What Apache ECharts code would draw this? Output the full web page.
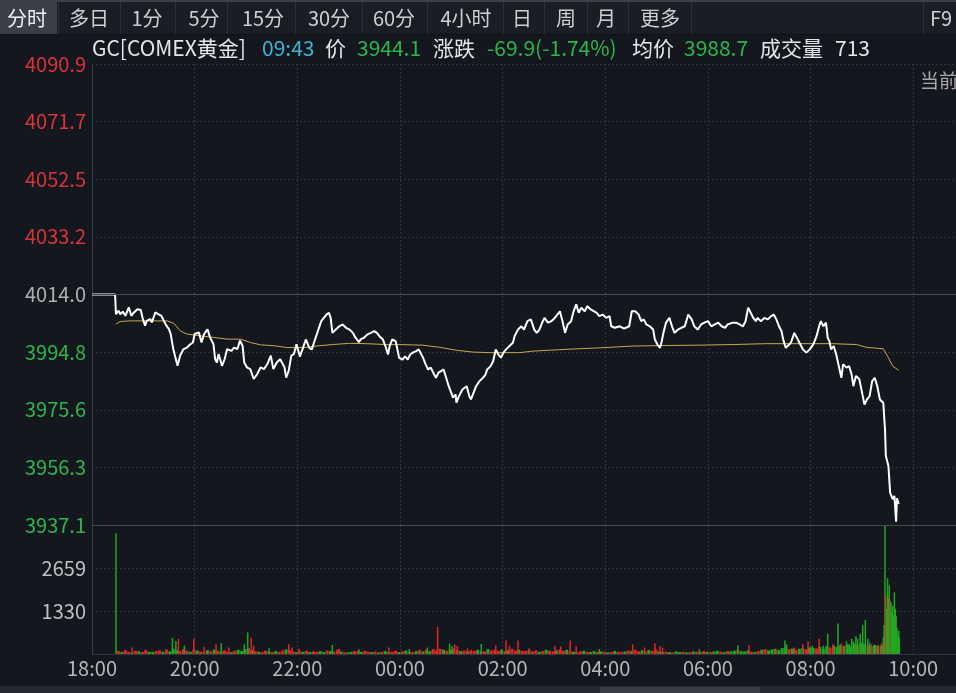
<!DOCTYPE html>
<html><head><meta charset="utf-8">
<script src="https://cdn.jsdelivr.net/npm/echarts@6/dist/echarts.min.js"></script>
<style>html,body{margin:0;padding:0;background:#14171e;overflow:hidden}#c{width:956px;height:693px;}</style>
</head><body><div id="c"></div><script>
// ---------------- DATA ----------------
const tabLabels = ['分时','多日','1分','5分','15分','30分','60分','4小时','日','周','月','更多'];
const headerSymbol = 'GC[COMEX黄金]';
const headerTime = '09:43';
const lastPrice = '3944.1';
const changeText = '-69.9(-1.74%)';
const avgPriceText = '3988.7';
const volumeText = '713';
const prevClose = 4014.0;
const priceTickStep = 19.225;
const priceTickLabels = ['3937.1','3956.3','3975.6','3994.8','4014.0','4033.2','4052.5','4071.7','4090.9'];
const volTickLabels = ['', '1330', '2659', ''];
const timeTickLabels = ['18:00','20:00','22:00','00:00','02:00','04:00','06:00','08:00','10:00'];
// [minutes after 18:00, price]
const pricePoints = [
[0,4014.0],[27,4014.0],[28,4007.4],[31,4008.6],[33,4007.4],[36,4008.3],[39,4006.9],[43,4009.7],[46,4006.9],[49,4008.0],
[53,4009.1],[57,4008.8],[59,4006.3],[62,4003.6],[64,4005.2],[68,4005.8],[70,4004.7],[74,4008.0],[78,4007.4],[81,4006.9],
[84,4005.2],[87,4003.6],[90,4002.4],[92,4000.8],[95,3995.8],[97,3993.6],[100,3990.2],[103,3993.6],[107,3995.8],[111,3996.3],
[115,3997.4],[118,3998.0],[120,4000.8],[125,4001.3],[128,3998.0],[131,4000.8],[135,4002.4],[138,3999.7],[142,3997.4],[144,3992.4],
[146,3991.3],[148,3994.1],[152,3990.2],[155,3992.4],[158,3995.8],[163,3995.2],[166,3996.3],[170,3995.8],[173,3998.6],[176,3996.9],
[178,3991.3],[181,3989.7],[185,3989.1],[189,3985.8],[193,3987.4],[197,3989.7],[201,3989.1],[205,3990.8],[209,3993.6],[212,3989.1],
[216,3991.3],[220,3992.4],[222,3993.0],[225,3989.7],[227,3986.3],[230,3988.6],[233,3993.6],[236,3994.1],[239,3997.4],[243,3993.3],
[246,3995.7],[250,3999.0],[254,3996.2],[257,3995.7],[260,3998.4],[264,4001.8],[268,4005.1],[271,4006.2],[274,4007.3],[277,4007.9],
[279,4006.2],[281,4001.2],[285,4002.3],[289,4003.4],[293,4004.0],[297,4002.9],[301,4002.3],[305,4001.2],[308,3999.6],[312,3998.1],
[314,3999.0],[318,3999.6],[322,4000.7],[326,4001.2],[330,4001.8],[333,4001.2],[336,4000.1],[340,3999.0],[343,3996.8],[346,3994.0],
[348,3996.8],[351,3999.0],[355,3998.4],[357,3995.7],[359,3992.9],[363,3992.3],[366,3993.4],[369,3992.3],[372,3994.0],[375,3994.6],
[379,3995.1],[382,3995.7],[385,3994.0],[387,3992.9],[390,3990.7],[393,3989.0],[396,3989.6],[399,3987.9],[402,3986.2],[405,3987.9],
[408,3988.4],[411,3989.0],[414,3986.2],[417,3983.4],[420,3981.2],[422,3979.6],[425,3980.7],[426,3977.9],[429,3980.1],[433,3982.3],
[435,3982.9],[438,3983.4],[441,3980.1],[443,3979.0],[446,3981.2],[449,3983.4],[453,3985.1],[457,3986.2],[460,3987.3],[462,3989.0],
[466,3990.1],[469,3991.8],[472,3995.7],[475,3994.0],[478,3992.9],[481,3994.6],[484,3995.7],[488,3996.8],[492,3997.9],[494,4000.1],
[498,4002.3],[502,4003.4],[505,4002.3],[509,4005.1],[513,4005.7],[517,4002.3],[520,4001.2],[523,4002.3],[527,4005.1],[529,4006.2],
[533,4004.6],[537,4005.1],[541,4006.2],[544,4007.3],[547,4008.4],[550,4005.1],[553,4001.2],[556,4004.0],[560,4005.1],[563,4008.4],
[566,4010.7],[569,4007.9],[572,4009.6],[576,4008.4],[579,4010.1],[583,4009.0],[587,4008.4],[590,4007.9],[593,4006.8],[597,4007.3],
[601,4006.2],[605,4006.8],[607,4003.4],[611,4002.9],[617,4003.4],[622,4002.6],[628,4003.4],[631,4008.4],[635,4008.4],[639,4007.3],
[642,4005.1],[645,4005.7],[648,4004.0],[652,4003.4],[656,4002.3],[658,3999.0],[661,3997.3],[664,3996.2],[666,3998.4],[668,4001.2],
[671,4004.6],[675,4006.2],[678,4003.4],[681,4001.2],[685,4002.3],[689,4002.9],[693,4003.4],[697,4007.3],[701,4005.7],[704,4003.4],
[708,4002.3],[712,4004.0],[716,4004.6],[720,4005.1],[724,4003.4],[728,4004.0],[732,4004.6],[736,4003.4],[740,4002.9],[743,4004.0],
[749,4004.6],[753,4004.6],[757,4004.0],[761,4003.4],[764,4005.1],[767,4009.6],[770,4007.9],[773,4006.2],[776,4005.1],[778,4006.2],
[782,4005.1],[786,4006.2],[790,4005.7],[794,4006.8],[797,4007.3],[800,4005.7],[803,4003.4],[806,4001.8],[808,3999.0],[811,3996.2],
[813,3996.8],[817,3997.9],[821,4001.2],[824,3999.6],[827,3997.9],[831,3995.7],[835,3994.6],[839,3995.7],[843,3997.3],[847,4000.1],
[850,4003.4],[852,4005.1],[855,4003.4],[858,4004.6],[860,3999.6],[862,3998.4],[864,3995.7],[867,3996.8],[870,3994.0],[873,3990.1],
[876,3986.2],[878,3990.7],[882,3989.6],[885,3990.1],[888,3987.3],[890,3983.4],[893,3986.8],[895,3987.3],[897,3985.7],[901,3980.1],
[903,3977.3],[906,3979.0],[909,3980.1],[912,3985.1],[915,3986.2],[918,3983.4],[921,3979.0],[925,3977.9],[927,3969.0],[928,3960.1],
[931,3956.8],[933,3947.9],[935,3947.4],[936,3945.7],[938,3946.8],[940,3938.2],[941,3946.0],[943,3944.1]
];
// [minutes after 18:00, average price]
const avgPoints = [
[28,4004.1],[33,4005.0],[45,4005.2],[57,4005.2],[72,4005.2],[88,4005.2],[96,4004.3],[103,4001.9],[111,4000.8],[127,4000.2],
[142,3999.7],[158,3999.1],[174,3999.1],[185,3998.0],[197,3997.2],[213,3996.9],[228,3996.3],[248,3996.3],[262,3996.8],[281,3997.3],
[301,3997.7],[320,3997.6],[344,3997.3],[359,3997.3],[386,3997.1],[406,3996.4],[426,3995.4],[445,3994.8],[464,3994.6],[484,3994.6],
[500,3994.6],[515,3995.1],[554,3995.7],[593,3996.2],[632,3996.8],[671,3997.0],[710,3997.1],[749,3997.3],[788,3997.6],[827,3997.6],
[866,3997.6],[894,3997.3],[905,3996.4],[925,3995.9],[931,3992.9],[936,3990.1],[943,3988.7]
];
// background volume, one value every 4 minutes from 18:30
const volBaseStart = 30, volBaseStep = 4;
const volBase = [
90,60,120,70,50,100,80,60,130,70, 60,90,110,70,140,80,160,120,90,150, 100,70,130,110,80,60,120,90,140,100,
80,110,70,60,100,130,90,150,180,120, 90,70,60,100,80,60,90,70,110,140, 120,80,60,90,70,100,60,80,70,90,
60,110,90,70,130,80,60,50,70,90, 80,60,100,70,60,80,50,70,90,60, 70,100,60,80,110,70,60,90,120,80,
130,90,150,110,160,130,100,140,170,120, 90,110,80,120,100,130,90,80,150,110, 130,100,140,90,120,160,110,130,100,90,
120,80,110,70,90,130,100,80,110,140, 100,130,90,70,60,80,100,70,60,90, 60,80,70,50,60,90,70,60,80,110,
90,130,80,110,70,120,100,140,90,60, 70,60,50,80,60,70,50,60,80,70, 60,90,70,60,80,100,70,60,90,80,
100,120,90,80,110,70,60,90,130,150, 110,140,160,120,180,200,150,170,130,160, 180,150,210,190,170,220,160,240,200,260,
220,280,250,300,240,320,270,350,300,260, 240,280,230,260,350,600,900,700,500
];
const volBaseDir = 'rgrrgrgrrg'+'grrgrgggrr'+'rgrgrrgrgr'+'grrgrgggrg'+'rgrrgrgrrg'+'rrgrgrgrrg'+'grgrrgrggr'+'rgrrgrgrgg'+
 'rrgrgrrgrg'+'rgrrrgrgrr'+'grgrrgrrgr'+'rrgrgrrgrr'+'grrgrgrrgr'+'rgrgrrgrgg'+'rgrgrgrrgr'+'grrgrgrrgg'+'rgrggrgrgr'+
 'grgrggrgrg'+'grgggrgrgr'+'ggrgggrgrg'+'grggrgggrg'+'ggrgggrggr'+'ggrgggggg';
// notable volume bars [minutes after 18:00, volume, r=up / g=down]
const volSpikes = [
[28,3730,'g'],[47,200,'r'],[94,500,'g'],[98,400,'g'],[101,470,'r'],[108,260,'g'],[119,470,'r'],[131,220,'r'],[145,300,'r'],[151,340,'g'],
[160,200,'r'],[178,300,'g'],[182,670,'g'],[186,500,'r'],[189,260,'r'],[207,180,'g'],[230,300,'r'],[234,200,'r'],[242,160,'r'],[281,280,'g'],
[289,160,'r'],[312,150,'g'],[347,200,'r'],[371,160,'g'],[392,200,'g'],[404,840,'r'],[418,320,'g'],[421,250,'g'],[424,300,'r'],[427,250,'r'],
[439,170,'r'],[455,310,'g'],[472,270,'r'],[484,420,'r'],[488,250,'r'],[498,420,'r'],[511,180,'r'],[541,250,'r'],[548,230,'r'],[559,420,'r'],
[566,230,'r'],[593,150,'g'],[632,300,'r'],[646,200,'r'],[658,330,'r'],[664,250,'r'],[667,200,'r'],[710,150,'g'],[755,270,'g'],[768,270,'r'],
[798,160,'g'],[810,420,'g'],[812,300,'g'],[821,200,'r'],[831,300,'r'],[837,390,'r'],[842,250,'g'],[850,470,'r'],[855,260,'g'],[860,620,'g'],
[866,300,'r'],[872,940,'g'],[876,330,'r'],[879,250,'g'],[882,390,'g'],[885,300,'g'],[888,470,'g'],[890,380,'g'],[893,550,'g'],[895,470,'g'],
[898,620,'g'],[901,890,'g'],[904,1050,'g'],[907,470,'g'],[909,350,'g'],[911,300,'r'],[914,260,'g'],[917,250,'r'],[919,280,'g'],[923,330,'r'],
[925,500,'g'],[926,900,'g'],[927,3988,'g'],[928,1810,'r'],[929,1400,'g'],[930,2340,'g'],[931,1700,'g'],[932,2120,'g'],[933,1650,'r'],[934,1600,'g'],
[935,1300,'g'],[936,1500,'g'],[937,1200,'g'],[938,1900,'g'],[939,1400,'g'],[940,1180,'g'],[941,800,'g'],[942,600,'g'],[943,713,'g']
];

// ---------------- STYLE / LAYOUT ----------------
const FONT = '"Noto Sans CJK SC", "Noto Sans", sans-serif';
const BG = '#14171e';
const UP = '#e0262b', DN = '#22a722';
const GRID_DOT = '#2f343e', LINE_SOLID = '#454a55';
const tabCenters = [27,89,147,204,263,329,394,466,522,566,606,660];
const tabSeps = [58,120,175,227,295,362,427,503,544,587,628,691,923];
const volMax = 3987, volStep = 1329;

const chart = echarts.init(document.getElementById('c'), null, {renderer:'canvas'});

const priceData = pricePoints.map(p => [p[0], (p[1]-prevClose)/priceTickStep]);
const avgData = avgPoints.map(p => [p[0], (p[1]-prevClose)/priceTickStep]);
const volBaseData = volBase.map((v,i) => ({value:[volBaseStart+i*volBaseStep, v], itemStyle:{color: volBaseDir[i]==='r'?UP:DN}}));
const volSpikeData = volSpikes.map(s => ({value:[s[0], s[1]], itemStyle:{color: s[2]==='r'?UP:DN}}));

const graphics = [];
graphics.push({type:'rect', shape:{x:0,y:0,width:956,height:34}, style:{fill:'#1a1d24'}, silent:true});
graphics.push({type:'rect', shape:{x:0,y:0,width:956,height:2}, style:{fill:'#3c3f47'}, silent:true});
graphics.push({type:'rect', shape:{x:0,y:2,width:57,height:32}, style:{fill:'#3b3e46'}, silent:true});
graphics.push({type:'rect', shape:{x:0,y:34,width:956,height:1}, style:{fill:'#0e1015'}, silent:true});
tabSeps.forEach(x => graphics.push({type:'rect', shape:{x:x,y:2,width:1,height:32}, style:{fill:'#2c2f37'}, silent:true}));
tabLabels.forEach((t,i) => graphics.push({type:'text', x:tabCenters[i], y:18, silent:true,
  style:{text:t, fill: i===0?'#f0f0f0':'#cfcfcf', font:'20px '+FONT, textAlign:'center', textVerticalAlign:'middle'}}));
graphics.push({type:'text', x:941, y:18, silent:true, style:{text:'F9', fill:'#cfcfcf', font:'20px '+FONT, textAlign:'center', textVerticalAlign:'middle'}});
const headerParts = [
  [headerSymbol, 92, '#e6e6e6'], [headerTime, 262, '#3fb3d6'], ['价', 325, '#e6e6e6'], [lastPrice, 357, '#2db54d'],
  ['涨跌', 433, '#e6e6e6'], [changeText, 487, '#2db54d'], ['均价', 632, '#e6e6e6'], [avgPriceText, 684, '#2db54d'],
  ['成交量', 760, '#e6e6e6'], [volumeText, 835, '#e6e6e6']
];
headerParts.forEach(h => graphics.push({type:'text', x:h[1], y:48, silent:true,
  style:{text:h[0], fill:h[2], font:'21px '+FONT, textAlign:'left', textVerticalAlign:'middle'}}));
graphics.push({type:'text', x:920, y:81, silent:true, style:{text:'当前', fill:'#a8a8a8', font:'19px '+FONT, textAlign:'left', textVerticalAlign:'middle'}});
graphics.push({type:'rect', shape:{x:0,y:686,width:956,height:7}, style:{fill:'#25282f'}, silent:true});
graphics.push({type:'rect', shape:{x:600,y:687,width:160,height:6}, style:{fill:'#3a3d45'}, silent:true});

const dotted = {show:true, lineStyle:{color:GRID_DOT, type:[2,2], width:1}};

chart.setOption({
  backgroundColor: BG,
  animation: false,
  textStyle: {fontFamily: FONT},
  grid: [
    {left:92, top:64, width:864, height:461},
    {left:92, top:525, width:864, height:129}
  ],
  xAxis: [
    {type:'value', gridIndex:0, min:0, max:1010, interval:120, position:'top',
     axisLine:{show:true, lineStyle:{color:LINE_SOLID}}, axisTick:{show:false}, axisLabel:{show:false}, splitLine:dotted},
    {type:'value', gridIndex:1, min:0, max:1010, interval:120, position:'bottom',
     axisLine:{show:true, lineStyle:{color:'#30343d'}}, axisTick:{show:false}, splitLine:dotted,
     axisLabel:{show:true, showMaxLabel:false, color:'#b8b8b8', fontSize:20, fontFamily:FONT, margin:4,
       formatter: v => { const i = Math.round(v/120); return (Math.abs(v - i*120) < 1e-6 && timeTickLabels[i]) ? timeTickLabels[i] : ''; }}}
  ],
  yAxis: [
    {type:'value', gridIndex:0, min:-4, max:4, interval:1,
     axisLine:{show:true, lineStyle:{color:'#3a3f4a'}}, axisTick:{show:false}, splitLine:dotted,
     axisLabel:{show:true, margin:6, fontSize:20, fontFamily:FONT,
       formatter: v => { const i = Math.round(v)+4; const k = i>4?'up':(i<4?'dn':'eq'); return '{'+k+'|'+priceTickLabels[i]+'}'; },
       rich:{up:{color:'#d9343b', fontSize:20, fontFamily:FONT}, dn:{color:'#2db54d', fontSize:20, fontFamily:FONT}, eq:{color:'#b0b0b0', fontSize:20, fontFamily:FONT}}}},
    {type:'value', gridIndex:1, min:0, max:volMax, interval:volStep,
     axisLine:{show:true, lineStyle:{color:'#3a3f4a'}}, axisTick:{show:false}, splitLine:dotted,
     axisLabel:{show:true, margin:6, color:'#c0c0c0', fontSize:20, fontFamily:FONT,
       formatter: v => volTickLabels[Math.round(v/volStep)] || ''}}
  ],
  series: [
    {type:'bar', xAxisIndex:1, yAxisIndex:1, data:volBaseData, barWidth:3, barGap:'-100%', silent:true},
    {type:'bar', xAxisIndex:1, yAxisIndex:1, data:volSpikeData, barWidth:1.5, barGap:'-100%', silent:true},
    {type:'line', xAxisIndex:0, yAxisIndex:0, data:avgData, symbol:'none', silent:true,
     lineStyle:{color:'#c9a94c', width:1}},
    {type:'line', xAxisIndex:0, yAxisIndex:0, data:priceData, symbol:'none', silent:true,
     lineStyle:{color:'#ffffff', width:2},
     markLine:{silent:true, symbol:'none', label:{show:false}, animation:false,
       lineStyle:{color:LINE_SOLID, type:'solid', width:1},
       data:[{yAxis:0},{yAxis:-4}]}}
  ],
  graphic: graphics
});
</script></body></html>
